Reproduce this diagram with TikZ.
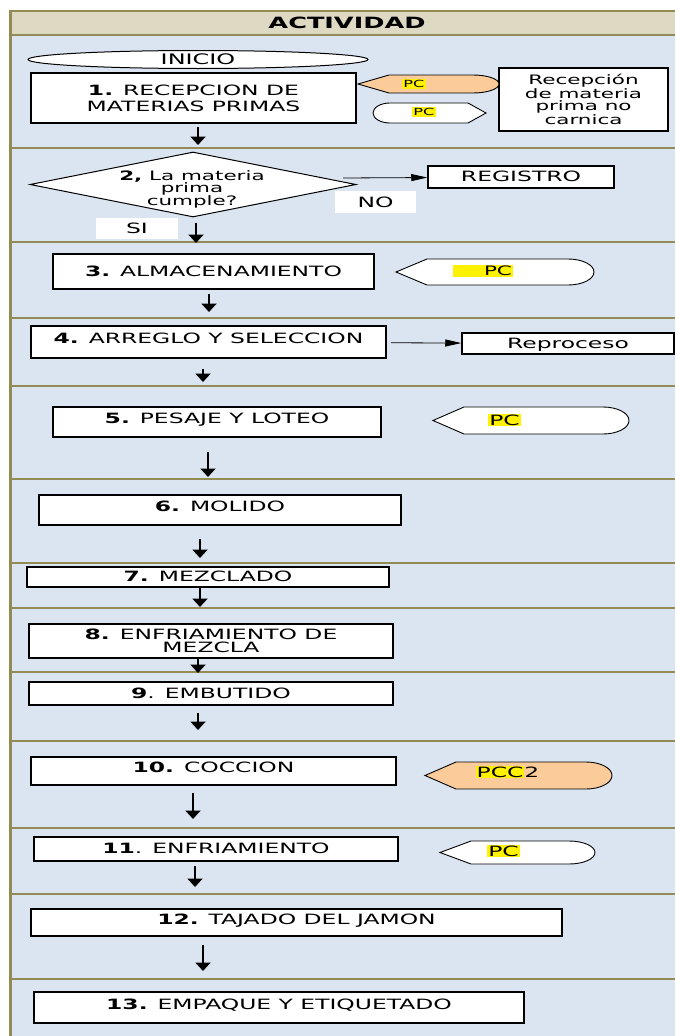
\documentclass[tikz,border=0pt]{standalone}
\usepackage{fontspec}
\setmainfont{DejaVu Sans}[FakeStretch=1.65]
\usetikzlibrary{shapes.geometric,arrows.meta}

\definecolor{olivo}{RGB}{148,138,84}
\definecolor{cabecera}{RGB}{221,217,195}
\definecolor{fondo}{RGB}{219,229,241}
\definecolor{durazno}{RGB}{251,204,153}

\newcommand{\resalta}[1]{{\setlength{\fboxsep}{1pt}\colorbox{yellow}{#1}}}

% marca de control: punta a la izquierda, extremo redondo a la derecha
\newcommand{\pcizq}[5]{%
  \draw[marca, fill=#5] (#1,{(#3+#4)/2}) -- (#1+31,#3) -- (#2-26,#3)
    arc[start angle=90, end angle=-90, x radius=26pt, y radius={(#4-#3)/2*1pt}]
    -- (#1+31,#4) -- cycle;}

\begin{document}
\begin{tikzpicture}[x=1pt, y=-1pt,
    caja/.style = {draw, fill=white, line width=1.5pt, inner sep=2pt, font=\fontsize{14.2}{16}\selectfont},
    linea/.style = {text height=10.4pt, text depth=1pt},
    alta/.style = {text depth=7pt},
    marca/.style = {draw, line width=0.9pt},
    flecha/.style = {line width=2pt, -{Triangle[width=15pt,length=8.5pt]}},
    fina/.style = {line width=0.8pt, -{Triangle[width=7pt,length=16pt]}},
    etiqueta/.style = {fill=white, inner sep=0pt, font=\fontsize{14.2}{16}\selectfont}]
    \useasboundingbox (0,0) rectangle (675,1036);

    % tabla
    \fill[fondo] (10.5,34.5) rectangle (675,1036);
    \fill[cabecera] (10.5,11) rectangle (675,34.5);
    \foreach \y in {11,34.5,148,242,318,386,479,563,608,672,741,828,894,979}
    {
      \draw[olivo, line width=2pt] (10.5,\y) -- (675,\y);
    }
    \draw[olivo, line width=2.5pt] (10.5,10) -- (10.5,1036);
    \node (titulo) at (347,22.5) {\fontsize{15.5}{17}\selectfont\textbf{ACTIVIDAD}};

    % fila 1
    \node (inicio) [ellipse, draw, fill=white, line width=1pt, inner sep=0pt, minimum width=340pt, minimum height=18pt,
      font=\fontsize{14.5}{16}\selectfont] at (198,59.5) {INICIO};
    \node (p1) [caja, minimum width=325pt, minimum height=50pt, align=center] at (193.5,98)
      {\textbf{1.} RECEPCION DE\\MATERIAS PRIMAS};
    \node (recep) [caja, minimum width=169pt, minimum height=63pt, align=center,
      font=\fontsize{13}{12.3}\selectfont] at (583.5,99.5) {Recepción\\de materia\\prima no\\carnica};
    \pcizq{358}{499}{75}{93}{durazno}
    \node (pc1) [inner sep=0pt, font=\fontsize{9.8}{11}\selectfont] at (414,84) {\resalta{PC}};
    \draw[marca, fill=white] (390,103) -- (468,103) -- (486,113) -- (468,123) -- (390,123)
      arc[start angle=270, end angle=90, x radius=17pt, y radius=10pt] -- cycle;
    \node (pc2) [inner sep=0pt, font=\fontsize{9.8}{11}\selectfont] at (424,112) {\resalta{PC}};

    % fila 2
    \node (d2) [diamond, draw, fill=white, line width=1pt, inner sep=0pt, minimum width=326pt, minimum height=65pt] at (193,184.5) {};
    \node (t2) [align=center, font=\fontsize{13}{12}\selectfont] at (192,189.5) {\textbf{2,} La materia\\prima\\cumple?};
    \node (reg) [caja, linea, minimum width=186pt, minimum height=22pt] at (521,177) {REGISTRO};
    \node (no) [etiqueta, minimum width=81pt, minimum height=22pt] at (375.5,202) {NO};
    \node (si) [etiqueta, minimum width=82pt, minimum height=21pt] at (137,228.5) {SI};
    \coordinate (s2) at (343,178);
    \draw[fina] (s2) -- (reg);

    % filas 3 a 13
    \node (p3) [caja, linea, minimum width=321pt, minimum height=35pt] at (213.5,271.5) {\textbf{3.} ALMACENAMIENTO};
    \pcizq{396}{594}{259}{285}{white}
    \node (pc3) [inner sep=0pt, font=\fontsize{13}{14}\selectfont] at (483,271) {\resalta{\hspace*{30pt}PC}};

    \node (p4) [caja, linea, alta, minimum width=355pt, minimum height=32pt] at (208.5,342) {\textbf{4.} ARREGLO Y SELECCION};
    \node (rep) [caja, linea, minimum width=212pt, minimum height=21pt] at (568,343.5) {Reproceso};
    \draw[fina, shorten <=4pt] (p4) -- (rep);

    \node (p5) [caja, linea, alta, minimum width=328pt, minimum height=30pt] at (217,422) {\textbf{5.} PESAJE Y LOTEO};
    \pcizq{433}{629}{407}{434}{white}
    \node (pc5) [inner sep=0pt, font=\fontsize{14.2}{15}\selectfont] at (504.5,420) {\resalta{PC}};

    \node (p6) [caja, linea, alta, minimum width=362pt, minimum height=30pt] at (220,510) {\textbf{6.} MOLIDO};
    \node (p7) [caja, linea, minimum width=362pt, minimum height=20pt] at (208,577) {\textbf{7.} MEZCLADO};
    \node (p8) [caja, minimum width=364pt, minimum height=34pt, align=center,
      font=\fontsize{14.2}{13}\selectfont] at (211,641) {\textbf{8.} ENFRIAMIENTO DE\\MEZCLA};
    \node (p9) [caja, linea, minimum width=364pt, minimum height=23pt] at (211,693.5) {\textbf{9}. EMBUTIDO};

    \node (p10) [caja, linea, alta, minimum width=365pt, minimum height=28pt] at (213.5,771) {\textbf{10.} COCCION};
    \pcizq{425}{612}{762}{789}{durazno}
    \node (pc10) [inner sep=0pt, font=\fontsize{14.2}{15}\selectfont] at (507.5,772) {\resalta{PCC}2};

    \node (p11) [caja, linea, minimum width=364pt, minimum height=24pt] at (216,849) {\textbf{11}. ENFRIAMIENTO};
    \pcizq{440}{595}{841}{864}{white}
    \node (pc11) [inner sep=0pt, font=\fontsize{14.2}{15}\selectfont] at (503.5,851) {\resalta{PC}};

    \node (p12) [caja, linea, alta, minimum width=531pt, minimum height=27pt] at (296.5,922.5) {\textbf{12.} TAJADO DEL JAMON};
    \node (p13) [caja, linea, alta, minimum width=490pt, minimum height=31pt] at (279,1007.5) {\textbf{13.} EMPAQUE Y ETIQUETADO};

    % flechas entre pasos
    \foreach \c/\x/\g/\y in {p1/198/3/145, d2/196/5/243, p3/209/4/312, p4/203/10/382,
      p5/208/14/477, p6/200/13/558, p7/200/0/607, p8/198/0/673, p9/198/7/730,
      p10/193/7/819, p11/195/4/887, p12/203/8/971}
    {
      \coordinate (f\c) at (\x,\y);
      \draw[flecha, shorten <=\g pt] (\c.south -| f\c) -- (f\c);
    }
  \end{tikzpicture}
\end{document}
